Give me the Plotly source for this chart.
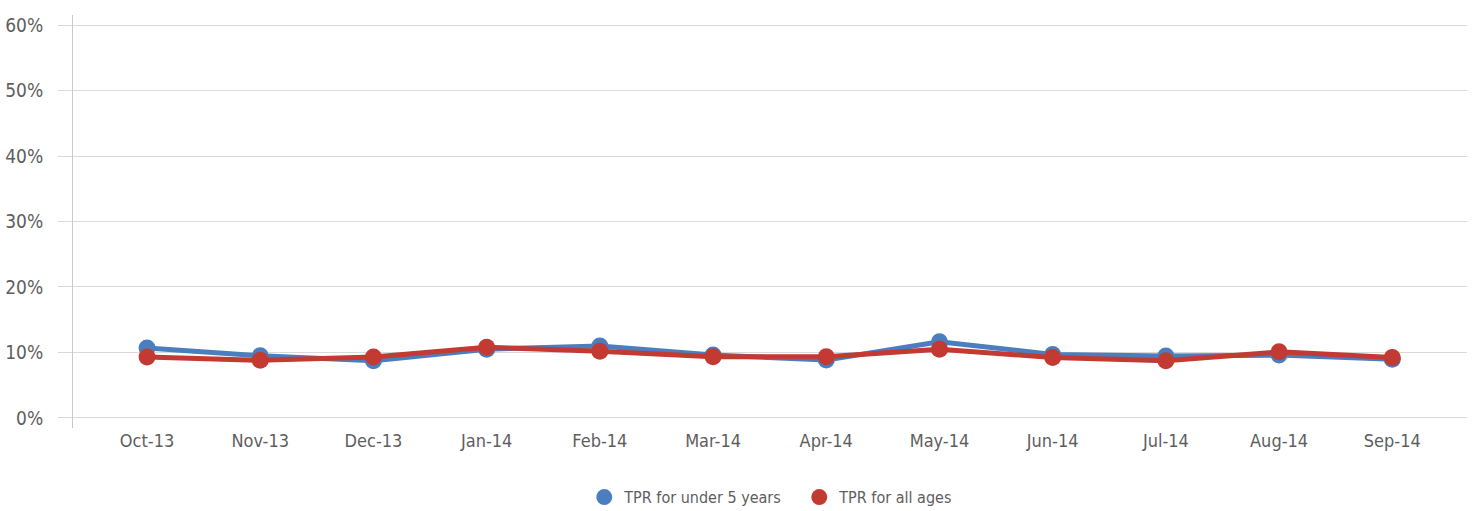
import plotly.graph_objects as go

months = ["Oct-13", "Nov-13", "Dec-13", "Jan-14", "Feb-14", "Mar-14",
          "Apr-14", "May-14", "Jun-14", "Jul-14", "Aug-14", "Sep-14"]
tpr_under5 = [0.107, 0.095, 0.0875, 0.105, 0.110, 0.096,
              0.0885, 0.1165, 0.097, 0.0945, 0.096, 0.0895]
tpr_all = [0.093, 0.088, 0.093, 0.108, 0.102, 0.0935,
           0.0935, 0.105, 0.0925, 0.0875, 0.101, 0.0925]
series_names = ["TPR for under 5 years", "TPR for all ages"]
ytick_vals = [0, 0.1, 0.2, 0.3, 0.4, 0.5, 0.6]
ytick_text = ["0%", "10%", "20%", "30%", "40%", "50%", "60%"]

BLUE = "#4A7EBF"
RED = "#C23A31"
FONT = "DejaVu Sans Condensed, Roboto, sans-serif"
TXT = "#5E5E5E"

fig = go.Figure()
xi = list(range(len(months)))
for vals, color in [(tpr_under5, BLUE), (tpr_all, RED)]:
    fig.add_trace(go.Scatter(
        x=xi, y=vals, mode="lines+markers",
        line=dict(color=color, width=5),
        marker=dict(color=color, size=17),
        showlegend=False, hoverinfo="skip"))
for name, color in zip(series_names, [BLUE, RED]):
    fig.add_trace(go.Scatter(
        x=[None], y=[None], mode="markers", name=name,
        marker=dict(color=color, size=17)))

fig.update_layout(
    width=1477, height=511,
    margin=dict(l=73, r=10, t=15, b=83, autoexpand=False),
    paper_bgcolor="white", plot_bgcolor="white",
    font=dict(family=FONT, color=TXT, size=18),
    legend=dict(orientation="h", x=0.521, xanchor="center",
                y=0.027, yref="container", yanchor="middle",
                font=dict(size=16, color=TXT),
                entrywidth=170, entrywidthmode="pixels", itemwidth=30),
)
fig.update_xaxes(
    range=[-0.654, 11.66], tickmode="array", tickvals=xi, ticktext=months,
    showgrid=False, zeroline=False, showline=False, ticks="",
    tickfont=dict(size=18, color=TXT), fixedrange=True, automargin=False)
fig.update_yaxes(
    range=[-0.0153, 0.6153], tickmode="array", tickvals=ytick_vals,
    ticktext=ytick_text, showgrid=True, gridcolor="#D9D9D9", gridwidth=1,
    zeroline=False, showline=True, linecolor="#C8C8C8", linewidth=1,
    ticks="outside", ticklen=14, tickcolor="#D9D9D9", tickwidth=1,
    tickfont=dict(size=19, color=TXT), ticklabelstandoff=11,
    automargin=False, fixedrange=True)

fig.write_html("out.html", config={"displayModeBar": False},
               post_script="document.body.style.margin='0';")
